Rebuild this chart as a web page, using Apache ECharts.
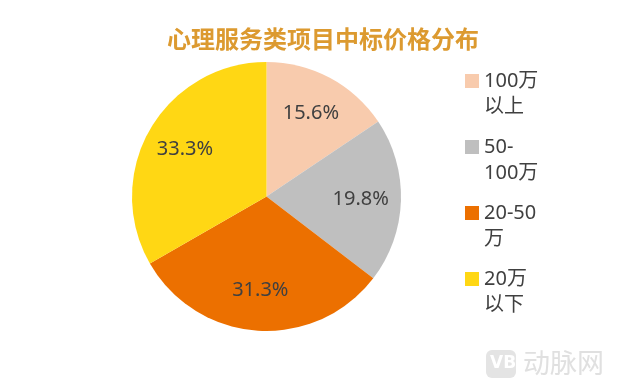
<!DOCTYPE html>
<html><head><meta charset="utf-8">
<script src="https://cdn.jsdelivr.net/npm/echarts@6/dist/echarts.min.js"></script>
<style>html,body{margin:0;padding:0;background:#fff}#c{width:619px;height:391px}</style>
</head><body><div id="c"></div>
<script>
const titleText = '心理服务类项目中标价格分布';
const categories = ['100万\n以上', '50-\n100万', '20-50\n万', '20万\n以下'];
const values = [15.6, 19.8, 31.3, 33.3];
const colors = ['#F8CBAD', '#BFBFBF', '#EC7000', '#FFD714'];

const data = categories.map((n, i) => ({ name: n, value: values[i], itemStyle: { color: colors[i] } }));
const font = '"Noto Sans", "Noto Sans CJK SC", sans-serif';

const chart = echarts.init(document.getElementById('c'));
chart.setOption({
  animation: false,
  title: {
    text: titleText, left: 162, top: 22,
    textStyle: { color: '#DC9A30', fontSize: 24, fontWeight: 'bold', fontFamily: '"Noto Sans CJK SC", sans-serif' }
  },
  legend: {
    orient: 'vertical', left: 460, top: 63,
    itemWidth: 14, itemHeight: 40, itemGap: 14,
    icon: 'path://M0,0h14v14h-14z M0,39.99h0.01v0.01h-0.01z',
    data: categories,
    textStyle: { fontSize: 20, lineHeight: 26, color: '#404040', fontFamily: font }
  },
  graphic: [
    { type: 'rect', left: 486, top: 350, shape: { width: 30, height: 28, r: 6 }, style: { fill: '#E4E4E4' } },
    { type: 'text', left: 490, top: 355, style: { text: 'VB', fill: '#fff', font: 'bold 17px "DejaVu Sans"' } },
    { type: 'text', left: 523, top: 349, style: { text: '动脉网', fill: '#E0E0E0', font: '27px "Noto Sans CJK SC"' } }
  ],
  series: [
    {
      type: 'pie', center: [266.5, 196.5], radius: [0, 134.5],
      startAngle: 90, clockwise: true, silent: true,
      label: { show: false }, labelLine: { show: false },
      data: data
    },
    {
      type: 'pie', center: [266.5, 196.5], radius: [48, 134.5],
      startAngle: 90, clockwise: true, silent: true,
      itemStyle: { color: 'rgba(0,0,0,0)' },
      label: { show: true, position: 'inside', formatter: p => p.value.toFixed(1) + '%', fontSize: 20, color: '#404040', fontFamily: font },
      labelLine: { show: false },
      data: values.map((v, i) => ({ name: 'l' + i, value: v, itemStyle: { color: 'rgba(0,0,0,0)' } }))
    }
  ]
});
</script></body></html>
